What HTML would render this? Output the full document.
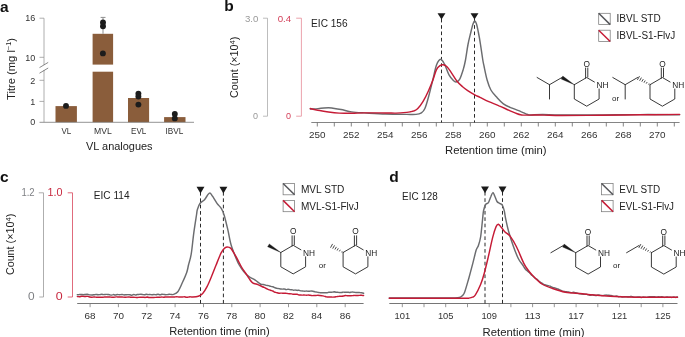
<!DOCTYPE html>
<html><head><meta charset="utf-8"><title>Figure</title>
<style>
html,body{margin:0;padding:0;background:#fff}
svg{display:block}
text{font-family:"Liberation Sans",sans-serif}
.t{font-size:9px;fill:#333}
.l{font-size:10px;fill:#222}
.p{font-size:15.5px;font-weight:bold;fill:#111}
.g{fill:#7d7f83}
.r{fill:#c8283f}
.c{fill:none;stroke-width:1.45;stroke-linejoin:round;stroke-linecap:round}
.b{fill:none;stroke:#222;stroke-width:0.9;stroke-linecap:round;stroke-linejoin:round}
.m{font-size:8.3px;fill:#222}
</style></head><body>
<svg width="685" height="337" viewBox="0 0 685 337">
<rect width="685" height="337" fill="#fff"/>

<text class="p" x="0" y="11.5">a</text>
<g fill="#8a5d3b">
<rect x="55.5" y="106.1" width="21.4" height="16.1"/>
<rect x="92.6" y="33.8" width="20.5" height="30.8"/>
<rect x="92.6" y="71.7" width="20.5" height="50.5"/>
<rect x="128" y="98" width="21.1" height="24.2"/>
<rect x="164.1" y="117.1" width="21.4" height="5.1"/>
</g>
<path d="M103,17.4V33.8M100.6,17.4H105.5" stroke="#8f8f8f" stroke-width="1" fill="none"/>
<path d="M39.5,18.2H44V64.8M44,70V122.2M39.5,57.3H44M39.5,80.3H44M39.5,101.4H44" stroke="#999" stroke-width="0.8" fill="none"/>
<path d="M39.5,122.3H194" stroke="#777" stroke-width="0.8" fill="none"/>
<path d="M39.5,67.6L48.2,62.4M39.5,73.2L48.2,68" stroke="#555" stroke-width="0.7" fill="none"/>
<circle cx="66" cy="105.9" r="2.95" fill="#1c1c1c"/>
<circle cx="103.0" cy="22.5" r="2.95" fill="#1c1c1c"/>
<circle cx="103.0" cy="26.2" r="2.95" fill="#1c1c1c"/>
<circle cx="102.9" cy="53.4" r="2.95" fill="#1c1c1c"/>
<circle cx="138.4" cy="93.6" r="2.95" fill="#1c1c1c"/>
<circle cx="138.4" cy="96.5" r="2.95" fill="#1c1c1c"/>
<circle cx="138.4" cy="104.6" r="2.95" fill="#1c1c1c"/>
<circle cx="174.8" cy="113.9" r="2.95" fill="#1c1c1c"/>
<circle cx="174.8" cy="118.4" r="2.95" fill="#1c1c1c"/>
<text class="t" x="35.3" y="21.4" text-anchor="end">16</text>
<text class="t" x="35.3" y="60.5" text-anchor="end">10</text>
<text class="t" x="35.3" y="83.5" text-anchor="end">2</text>
<text class="t" x="35.3" y="104.6" text-anchor="end">1</text>
<text class="t" x="35.3" y="125.4" text-anchor="end">0</text>
<text class="t" x="61.4" y="133.8" textLength="9.8" lengthAdjust="spacingAndGlyphs">VL</text>
<text class="t" x="94" y="133.8" textLength="17.8" lengthAdjust="spacingAndGlyphs">MVL</text>
<text class="t" x="131" y="133.8" textLength="15.3" lengthAdjust="spacingAndGlyphs">EVL</text>
<text class="t" x="165.5" y="133.8" textLength="17.8" lengthAdjust="spacingAndGlyphs">IBVL</text>
<text class="l" x="86" y="149.8" textLength="66.6" lengthAdjust="spacingAndGlyphs">VL analogues</text>
<text class="l" transform="translate(14.6,100) rotate(-90)" textLength="62" lengthAdjust="spacingAndGlyphs">Titre (mg l<tspan font-size="6.5" dy="-3.2">−1</tspan><tspan dy="3.2">)</tspan></text>
<text class="p" x="224.3" y="11.3">b</text>
<text class="t g" style="fill:#999" x="244.9" y="21.6" textLength="13.4" lengthAdjust="spacingAndGlyphs">3.0</text>
<text class="t g" style="fill:#999" x="253.1" y="119.4">0</text>
<text class="t r" style="fill:#d4405a" x="277.7" y="21.6" textLength="13.5" lengthAdjust="spacingAndGlyphs">0.4</text>
<text class="t r" style="fill:#d4405a" x="286" y="119.4">0</text>
<path d="M263,18.2H267.5V116.2H263" stroke="#a0a0a0" stroke-width="0.7" fill="none"/>
<path d="M296.2,18.2H301.4V116.2H296.2" stroke="#e68a97" stroke-width="0.8" fill="none"/>
<text class="l" x="311.1" y="26.7" textLength="36.5" lengthAdjust="spacingAndGlyphs">EIC 156</text>
<text class="l" transform="translate(237.9,98) rotate(-90)" textLength="61.4" lengthAdjust="spacingAndGlyphs">Count (×10<tspan font-size="7.2" dy="-3">4</tspan><tspan dy="3">)</tspan></text>
<path d="M311.3,122.5H679.6M317.3,122.5V126.5M334.3,122.5V126.5M351.3,122.5V126.5M368.3,122.5V126.5M385.3,122.5V126.5M402.3,122.5V126.5M419.3,122.5V126.5M436.3,122.5V126.5M453.3,122.5V126.5M470.3,122.5V126.5M487.3,122.5V126.5M504.3,122.5V126.5M521.3,122.5V126.5M538.3,122.5V126.5M555.3,122.5V126.5M572.3,122.5V126.5M589.3,122.5V126.5M606.3,122.5V126.5M623.3,122.5V126.5M640.3,122.5V126.5M657.3,122.5V126.5M674.3,122.5V126.5" stroke="#666" stroke-width="0.8" fill="none"/>
<text class="t" x="309.1" y="138.2" textLength="16.5" lengthAdjust="spacingAndGlyphs">250</text>
<text class="t" x="343.1" y="138.2" textLength="16.5" lengthAdjust="spacingAndGlyphs">252</text>
<text class="t" x="377.1" y="138.2" textLength="16.5" lengthAdjust="spacingAndGlyphs">254</text>
<text class="t" x="411.1" y="138.2" textLength="16.5" lengthAdjust="spacingAndGlyphs">256</text>
<text class="t" x="445.1" y="138.2" textLength="16.5" lengthAdjust="spacingAndGlyphs">258</text>
<text class="t" x="479.1" y="138.2" textLength="16.5" lengthAdjust="spacingAndGlyphs">260</text>
<text class="t" x="513.0" y="138.2" textLength="16.5" lengthAdjust="spacingAndGlyphs">262</text>
<text class="t" x="547.0" y="138.2" textLength="16.5" lengthAdjust="spacingAndGlyphs">264</text>
<text class="t" x="581.0" y="138.2" textLength="16.5" lengthAdjust="spacingAndGlyphs">266</text>
<text class="t" x="615.0" y="138.2" textLength="16.5" lengthAdjust="spacingAndGlyphs">268</text>
<text class="t" x="649.0" y="138.2" textLength="16.5" lengthAdjust="spacingAndGlyphs">270</text>
<text class="l" x="445" y="154.3" textLength="101.6" lengthAdjust="spacingAndGlyphs">Retention time (min)</text>
<path d="M441.5,18.8V122.5" stroke="#1f1f1f" stroke-width="0.95" stroke-dasharray="3.65 2.7" fill="none"/>
<path d="M437.55,13.2H445.45L441.5,19.4Z" fill="#1a1a1a"/>
<path d="M474.5,18.8V122.5" stroke="#1f1f1f" stroke-width="0.95" stroke-dasharray="3.65 2.7" fill="none"/>
<path d="M470.55,13.2H478.45L474.5,19.4Z" fill="#1a1a1a"/>
<path class="c" stroke="#6b6c6f" d="M310.3,109.0C311.6,108.9 315.7,108.8 318.0,108.6C320.3,108.4 322.2,108.2 324.0,108.0C325.8,107.8 327.0,107.7 328.5,107.7C330.0,107.7 330.9,107.9 333.0,108.2C335.1,108.5 337.9,108.9 341.0,109.5C344.1,110.1 347.8,111.3 351.6,111.9C355.4,112.5 358.4,112.6 364.0,112.9C369.6,113.2 378.4,113.8 385.5,114.0C392.6,114.2 401.7,114.3 406.8,114.4C411.9,114.5 413.6,114.7 416.0,114.4C418.4,114.2 419.9,113.9 421.4,112.9C422.9,111.9 423.7,111.2 424.9,108.5C426.1,105.8 427.2,101.8 428.5,97.0C429.8,92.2 431.6,84.8 432.9,79.5C434.2,74.2 435.2,68.5 436.5,65.1C437.8,61.7 439.3,59.4 440.6,59.3C441.9,59.1 443.1,61.6 444.5,64.2C445.9,66.8 447.5,72.2 449.0,74.9C450.5,77.6 452.2,79.4 453.4,80.6C454.6,81.8 455.1,82.2 456.1,82.0C457.1,81.8 458.4,81.5 459.6,79.4C460.8,77.3 462.2,72.8 463.2,69.6C464.2,66.4 464.7,64.2 465.5,60.0C466.3,55.8 467.1,49.2 468.0,44.5C468.9,39.8 470.1,35.4 470.9,32.0C471.7,28.6 472.4,25.8 473.0,24.0C473.6,22.2 474.2,21.0 474.8,21.0C475.4,21.0 475.9,22.2 476.5,24.0C477.1,25.8 477.6,28.6 478.3,32.0C479.0,35.4 479.8,39.8 480.5,44.5C481.2,49.2 482.2,56.2 482.8,60.0C483.4,63.8 483.5,63.6 484.2,67.0C484.9,70.4 486.1,76.5 487.2,80.3C488.3,84.1 489.4,87.3 490.9,90.0C492.4,92.7 494.0,94.3 496.1,96.6C498.2,98.9 500.7,102.0 503.4,103.9C506.1,105.8 509.2,106.9 512.1,108.2C515.0,109.5 518.6,110.6 520.9,111.6C523.2,112.5 524.8,113.4 526.0,113.9C527.2,114.4 527.5,114.6 528.3,114.8C529.0,115.0 528.1,115.0 530.5,115.0C532.9,115.0 537.9,114.5 542.8,114.5C547.7,114.5 550.5,114.9 560.0,115.0C569.5,115.1 586.7,115.1 600.0,115.0C613.3,114.9 626.7,114.6 640.0,114.6C653.3,114.5 673.0,114.7 679.6,114.7"/>
<path class="c" stroke="#c51b36" d="M310.3,108.5C311.6,108.8 314.8,109.7 317.8,110.3C320.8,110.9 324.9,111.5 328.5,112.0C332.1,112.5 335.3,112.9 339.2,113.1C343.1,113.3 347.5,113.3 351.6,113.3C355.7,113.3 358.4,113.0 364.0,112.9C369.6,112.8 380.2,112.9 385.5,112.9C390.8,112.9 392.4,113.2 396.0,113.1C399.6,113.0 404.4,112.6 406.8,112.4C409.2,112.2 409.5,112.0 410.7,111.7C411.9,111.5 412.8,111.4 414.0,110.9C415.2,110.4 416.3,110.1 417.8,108.5C419.3,106.9 421.3,104.4 423.1,101.4C424.9,98.4 426.9,94.3 428.5,90.7C430.1,87.1 431.6,83.5 432.9,80.0C434.2,76.5 435.3,72.0 436.5,69.6C437.7,67.2 438.9,66.5 440.0,65.7C441.1,64.9 442.1,64.6 443.3,64.8C444.5,65.0 445.8,65.5 447.2,66.9C448.6,68.3 450.0,70.7 451.6,73.1C453.2,75.5 455.2,79.0 457.0,81.2C458.8,83.4 460.5,84.9 462.3,86.5C464.1,88.1 465.6,89.2 467.7,90.6C469.8,92.0 472.8,93.8 474.8,94.9C476.9,96.0 477.7,96.2 480.0,97.3C482.3,98.4 485.6,100.3 488.8,101.7C492.0,103.1 495.6,104.3 499.0,105.8C502.4,107.2 506.2,109.1 509.2,110.4C512.2,111.7 515.3,113.1 517.2,113.8C519.1,114.5 519.5,114.6 520.5,114.8C521.5,115.0 521.5,115.0 523.0,115.1C524.5,115.1 526.1,115.1 529.6,115.1C533.1,115.1 538.8,115.0 544.2,115.1C549.6,115.2 552.5,115.5 561.8,115.5C571.1,115.5 587.0,115.4 600.0,115.3C613.0,115.2 626.7,114.9 640.0,114.8C653.3,114.7 673.0,114.5 679.6,114.4"/>
<rect x="598.7" y="13.3" width="11.5" height="11.3" fill="#fff" stroke="#7a7a7a" stroke-width="0.75"/>
<path d="M598.7,13.3L610.2,24.6" stroke="#55565a" stroke-width="1.5"/>
<rect x="598.7" y="30.2" width="11.5" height="11.3" fill="#fff" stroke="#7a7a7a" stroke-width="0.75"/>
<path d="M598.7,30.2L610.2,41.5" stroke="#c51b36" stroke-width="1.5"/>
<text class="l" x="616.5" y="22" textLength="44.2" lengthAdjust="spacingAndGlyphs">IBVL STD</text>
<text class="l" x="616.5" y="38.9" textLength="58.7" lengthAdjust="spacingAndGlyphs">IBVL-S1-FlvJ</text>
<path class="b" d="M574.3,84.7L586.7,77.5L594.4,82.0M599.1,89.0L599.1,99.0L586.7,106.2L574.3,99.0L574.3,84.7M585.6,78.1V68.0M587.8,77.0V68.0"/>
<text class="m" x="586.7" y="66.5" text-anchor="middle">O</text>
<text class="m" x="596.5" y="88.1">NH</text>
<path class="b" d="M561.9,77.5L549.5,84.7L537.1,77.5M549.5,84.7L549.5,99.0"/>
<path d="M574.3,84.7L562.8,76.1L561.1,79.0Z" fill="#1a1a1a" stroke="#1a1a1a" stroke-width="0.3"/>
<path class="b" d="M650.0,84.7L662.4,77.5L670.1,82.0M674.8,89.0L674.8,99.0L662.4,106.2L650.0,99.0L650.0,84.7M661.3,78.1V68.0M663.5,77.0V68.0"/>
<text class="m" x="662.4" y="66.5" text-anchor="middle">O</text>
<text class="m" x="672.2" y="88.1">NH</text>
<path class="b" d="M637.6,77.5L625.2,84.7L612.8,77.5M625.2,84.7L625.2,99.0"/>
<path d="M649.1,83.5L648.5,84.5M647.2,82.0L646.2,83.6M645.2,80.5L644.0,82.7M643.3,79.1L641.8,81.7M641.4,77.6L639.6,80.8M639.5,76.1L637.4,79.9" stroke="#1a1a1a" stroke-width="0.8" fill="none"/>
<text class="m" x="612" y="101.3" style="font-size:8px">or</text>
<text class="p" x="0" y="181.7">c</text>
<text class="t g" x="21.4" y="196.1" style="font-size:10.2px" textLength="13.2" lengthAdjust="spacingAndGlyphs">1.2</text>
<text class="t g" x="27.9" y="300.3" style="font-size:10.2px" textLength="6.6" lengthAdjust="spacingAndGlyphs">0</text>
<text class="t r" x="47.6" y="196.1" style="font-size:10.2px" textLength="15" lengthAdjust="spacingAndGlyphs">1.0</text>
<text class="t r" x="55.7" y="300.3" style="font-size:10.2px" textLength="6.9" lengthAdjust="spacingAndGlyphs">0</text>
<path d="M38.8,192.8H43.5V297H39.3" stroke="#999" stroke-width="0.8" fill="none"/>
<path d="M67.7,192.8H72.5V297H67.7" stroke="#d8455a" stroke-width="0.8" fill="none"/>
<text class="l" x="93.8" y="199.4" textLength="35.7" lengthAdjust="spacingAndGlyphs">EIC 114</text>
<text class="l" transform="translate(14.2,275.1) rotate(-90)" textLength="61.4" lengthAdjust="spacingAndGlyphs">Count (×10<tspan font-size="7.2" dy="-3">4</tspan><tspan dy="3">)</tspan></text>
<path d="M77.2,303.5H363.6" stroke="#666" stroke-width="0.9" fill="none"/>
<path d="M90.1,303.5V307.2M118.4,303.5V307.2M146.8,303.5V307.2M175.1,303.5V307.2M203.5,303.5V307.2M231.8,303.5V307.2M260.1,303.5V307.2M288.5,303.5V307.2M316.8,303.5V307.2M345.2,303.5V307.2" stroke="#7c7c7c" stroke-width="0.8" fill="none"/>
<text class="t" x="84.6" y="318.8" textLength="11" lengthAdjust="spacingAndGlyphs">68</text>
<text class="t" x="112.9" y="318.8" textLength="11" lengthAdjust="spacingAndGlyphs">70</text>
<text class="t" x="141.3" y="318.8" textLength="11" lengthAdjust="spacingAndGlyphs">72</text>
<text class="t" x="169.6" y="318.8" textLength="11" lengthAdjust="spacingAndGlyphs">74</text>
<text class="t" x="198.0" y="318.8" textLength="11" lengthAdjust="spacingAndGlyphs">76</text>
<text class="t" x="226.3" y="318.8" textLength="11" lengthAdjust="spacingAndGlyphs">78</text>
<text class="t" x="254.6" y="318.8" textLength="11" lengthAdjust="spacingAndGlyphs">80</text>
<text class="t" x="283.0" y="318.8" textLength="11" lengthAdjust="spacingAndGlyphs">82</text>
<text class="t" x="311.3" y="318.8" textLength="11" lengthAdjust="spacingAndGlyphs">84</text>
<text class="t" x="339.7" y="318.8" textLength="11" lengthAdjust="spacingAndGlyphs">86</text>
<text class="l" x="169.3" y="335.4" textLength="100.3" lengthAdjust="spacingAndGlyphs">Retention time (min)</text>
<path d="M200.5,192.0V303.5" stroke="#1f1f1f" stroke-width="0.95" stroke-dasharray="3.65 2.7" fill="none"/>
<path d="M196.55,186.8H204.45L200.5,193.5Z" fill="#1a1a1a"/>
<path d="M223.4,192.0V303.5" stroke="#1f1f1f" stroke-width="0.95" stroke-dasharray="3.65 2.7" fill="none"/>
<path d="M219.45,186.8H227.35L223.4,193.5Z" fill="#1a1a1a"/>
<path class="c" stroke="#6b6c6f" d="M77.3,294.8C77.6,294.8 78.6,294.7 79.2,294.6C79.9,294.5 80.5,294.4 81.2,294.4C81.8,294.4 82.4,294.7 83.1,294.7C83.7,294.7 84.3,294.6 85.0,294.5C85.7,294.4 86.6,294.3 87.3,294.3C88.1,294.4 88.9,294.7 89.7,294.9C90.4,295.0 91.3,295.0 92.0,295.0C92.7,295.0 93.3,294.9 94.0,294.8C94.7,294.7 95.3,294.5 96.0,294.4C96.7,294.4 97.3,294.7 98.0,294.7C98.7,294.7 99.4,294.7 100.0,294.6C100.6,294.5 101.2,294.3 101.9,294.3C102.5,294.3 103.1,294.6 103.8,294.6C104.4,294.6 105.0,294.4 105.6,294.4C106.2,294.3 106.9,294.4 107.5,294.4C108.1,294.5 108.8,294.6 109.4,294.7C110.0,294.8 110.6,295.1 111.2,295.1C111.9,295.1 112.5,294.6 113.1,294.6C113.8,294.5 114.3,294.9 115.0,294.9C115.7,294.9 116.6,294.6 117.3,294.5C118.1,294.5 118.9,294.7 119.7,294.7C120.4,294.6 121.3,294.4 122.0,294.4C122.7,294.4 123.3,294.8 124.0,294.9C124.7,294.9 125.3,294.7 126.0,294.7C126.7,294.6 127.3,294.6 128.0,294.6C128.7,294.6 129.4,294.7 130.0,294.8C130.6,294.9 131.2,295.2 131.8,295.2C132.4,295.1 133.0,294.4 133.6,294.4C134.2,294.4 134.8,295.0 135.5,295.0C136.1,295.0 136.7,294.6 137.3,294.5C137.9,294.4 138.5,294.4 139.1,294.4C139.7,294.3 140.3,294.3 140.9,294.3C141.5,294.3 142.1,294.4 142.7,294.5C143.3,294.5 143.9,294.9 144.5,294.8C145.2,294.8 145.8,294.3 146.4,294.3C147.0,294.3 147.6,294.6 148.2,294.6C148.8,294.6 149.4,294.5 150.0,294.5C150.6,294.5 151.3,294.7 152.0,294.7C152.7,294.6 153.3,294.5 154.0,294.5C154.7,294.5 155.3,294.7 156.0,294.7C156.7,294.6 157.3,294.3 158.0,294.3C158.7,294.3 159.3,294.7 160.0,294.7C160.7,294.7 161.3,294.4 161.9,294.3C162.6,294.3 163.2,294.3 163.8,294.4C164.5,294.4 165.1,294.7 165.7,294.7C166.4,294.7 167.0,294.5 167.7,294.5C168.3,294.4 168.9,294.3 169.6,294.3C170.2,294.3 170.8,294.5 171.5,294.5C172.1,294.5 172.3,294.9 173.4,294.4C174.5,293.9 176.3,293.6 177.8,291.7C179.3,289.8 180.8,286.0 182.3,282.8C183.8,279.6 185.7,275.5 186.7,272.5C187.7,269.5 187.8,268.1 188.5,265.0C189.2,261.9 190.3,259.6 191.2,254.2C192.1,248.8 192.9,239.3 193.8,232.8C194.7,226.3 195.9,218.9 196.5,215.0C197.1,211.1 196.8,211.4 197.4,209.5C198.0,207.6 198.9,204.9 200.1,203.3C201.3,201.7 203.2,201.2 204.5,199.7C205.8,198.2 207.2,195.5 208.1,194.4C209.0,193.3 209.5,192.8 210.2,193.1C210.9,193.4 211.4,194.5 212.5,196.2C213.6,197.9 215.5,201.2 217.0,203.3C218.5,205.4 220.2,206.7 221.4,208.6C222.6,210.5 223.1,211.6 224.1,215.0C225.1,218.4 226.5,224.1 227.7,229.2C228.9,234.2 229.7,240.2 231.2,245.3C232.7,250.4 235.3,256.2 236.6,259.5C237.9,262.8 238.0,263.0 239.2,265.0C240.4,267.0 242.1,269.7 243.7,271.6C245.3,273.5 247.1,275.2 249.0,276.6C250.9,278.0 253.3,278.9 255.2,280.1C257.1,281.3 259.1,283.3 260.3,284.0C261.5,284.7 261.7,284.3 262.4,284.4C263.1,284.5 263.8,284.5 264.5,284.7C265.1,284.8 265.8,285.2 266.5,285.4C267.2,285.6 267.9,285.4 268.6,285.6C269.3,285.8 270.0,286.2 270.7,286.4C271.4,286.6 272.1,286.6 272.9,286.8C273.6,287.0 274.3,287.5 275.0,287.8C275.7,288.0 276.4,288.3 277.1,288.4C277.8,288.5 278.3,288.5 278.9,288.6C279.5,288.7 280.1,288.9 280.8,289.0C281.4,289.1 282.0,289.1 282.6,289.1C283.2,289.1 283.8,288.9 284.4,288.9C285.0,289.0 285.6,289.6 286.2,289.6C286.9,289.6 287.5,289.2 288.1,289.2C288.7,289.2 289.3,289.5 289.9,289.6C290.5,289.7 291.1,289.6 291.7,289.7C292.3,289.8 292.9,290.1 293.6,290.2C294.2,290.2 294.8,289.9 295.4,290.0C296.0,290.0 296.6,290.3 297.2,290.4C297.8,290.4 298.4,290.2 299.0,290.3C299.7,290.4 300.3,290.8 300.9,290.9C301.5,291.0 302.0,291.0 302.7,291.0C303.4,291.0 304.1,291.2 304.8,291.2C305.5,291.2 306.2,291.0 306.9,291.1C307.7,291.1 308.4,291.3 309.1,291.3C309.8,291.3 310.5,291.0 311.2,291.0C311.9,291.0 312.5,291.1 313.1,291.2C313.8,291.4 314.4,291.7 315.1,291.9C315.7,292.0 316.4,292.0 317.0,292.1C317.7,292.3 318.3,292.4 319.0,292.5C319.6,292.6 320.3,292.8 320.9,292.8C321.5,292.8 322.2,292.7 322.8,292.7C323.5,292.7 324.1,292.8 324.8,292.8C325.5,292.8 326.1,292.8 326.8,292.8C327.4,292.7 328.0,292.4 328.7,292.3C329.4,292.2 330.0,292.4 330.7,292.3C331.3,292.3 332.0,292.2 332.6,292.1C333.2,292.0 333.8,291.8 334.4,291.8C335.0,291.9 335.6,292.2 336.3,292.3C336.9,292.4 337.5,292.2 338.1,292.3C338.7,292.3 339.3,292.5 339.9,292.6C340.5,292.6 341.1,292.5 341.7,292.5C342.4,292.4 343.0,292.1 343.6,292.1C344.2,292.1 344.7,292.3 345.4,292.3C346.1,292.3 346.8,292.2 347.5,292.2C348.3,292.2 349.0,292.5 349.7,292.4C350.4,292.4 351.1,292.0 351.9,292.0C352.6,291.9 353.3,292.2 354.0,292.3C354.7,292.4 355.3,292.4 355.9,292.5C356.6,292.5 357.2,292.4 357.8,292.4C358.5,292.4 359.1,292.5 359.8,292.6C360.4,292.6 361.0,292.6 361.7,292.7C362.3,292.8 363.3,293.1 363.6,293.2"/>
<path class="c" stroke="#c51b36" d="M77.3,296.6C77.7,296.6 78.7,296.7 79.4,296.7C80.2,296.6 80.9,296.4 81.6,296.3C82.3,296.3 83.0,296.3 83.7,296.4C84.4,296.4 85.1,296.4 85.9,296.4C86.6,296.4 87.3,296.3 88.0,296.4C88.7,296.5 89.3,296.9 90.0,297.0C90.7,297.1 91.4,297.2 92.0,297.2C92.6,297.2 93.2,297.0 93.8,297.0C94.4,297.0 95.0,297.1 95.6,297.1C96.2,297.2 96.8,297.1 97.4,297.2C98.0,297.2 98.6,297.3 99.2,297.3C99.8,297.3 100.4,297.3 101.0,297.3C101.6,297.3 102.2,297.3 102.8,297.3C103.4,297.2 104.0,297.0 104.6,296.9C105.2,296.9 105.8,297.0 106.4,297.0C107.0,297.0 107.6,296.9 108.2,296.9C108.8,296.9 109.4,297.0 110.0,297.0C110.6,297.0 111.2,297.2 111.9,297.2C112.5,297.3 113.1,297.3 113.8,297.3C114.4,297.2 115.0,296.9 115.6,296.9C116.2,296.8 116.9,296.9 117.5,296.9C118.1,296.9 118.8,296.9 119.4,297.0C120.0,297.0 120.6,297.0 121.2,297.0C121.9,297.0 122.5,297.1 123.1,297.1C123.8,297.2 124.4,297.2 125.0,297.2C125.6,297.2 126.2,297.1 126.9,297.1C127.5,297.0 128.1,296.9 128.8,296.9C129.4,297.0 130.0,297.1 130.6,297.2C131.2,297.2 131.9,297.1 132.5,297.2C133.1,297.2 133.8,297.2 134.4,297.3C135.0,297.3 135.6,297.5 136.2,297.5C136.9,297.5 137.5,297.4 138.1,297.4C138.8,297.3 139.4,297.3 140.0,297.3C140.6,297.3 141.2,297.3 141.8,297.3C142.4,297.3 143.0,297.3 143.6,297.3C144.2,297.4 144.8,297.4 145.5,297.4C146.1,297.3 146.7,297.0 147.3,297.0C147.9,297.1 148.5,297.4 149.1,297.5C149.7,297.5 150.3,297.4 150.9,297.4C151.5,297.4 152.1,297.4 152.7,297.4C153.3,297.4 153.9,297.4 154.5,297.4C155.2,297.3 155.8,297.2 156.4,297.2C157.0,297.1 157.6,297.2 158.2,297.2C158.8,297.2 159.4,297.2 160.0,297.2C160.6,297.2 161.3,297.0 161.9,297.0C162.5,297.0 163.1,297.3 163.8,297.2C164.4,297.2 165.0,297.0 165.6,296.9C166.3,296.9 166.9,296.9 167.5,296.9C168.2,296.9 168.8,297.0 169.4,297.0C170.0,297.0 170.7,297.0 171.3,297.0C171.9,297.0 172.5,297.1 173.2,297.0C173.8,297.0 174.4,296.9 175.1,296.9C175.7,296.8 176.3,296.8 176.9,296.8C177.6,296.8 178.2,296.9 178.8,296.9C179.5,296.9 180.1,296.9 180.7,296.9C181.3,296.9 182.0,297.0 182.6,297.0C183.2,297.0 183.8,296.8 184.5,296.8C185.1,296.8 185.7,297.2 186.4,297.2C187.0,297.3 187.6,297.1 188.2,297.1C188.9,297.0 189.5,296.8 190.1,296.8C190.7,296.8 190.6,297.1 192.0,297.0C193.4,296.9 196.5,296.8 198.3,296.2C200.1,295.6 201.2,295.1 202.7,293.5C204.2,291.9 205.7,289.3 207.2,286.4C208.7,283.5 210.1,279.9 211.6,276.3C213.1,272.7 214.5,269.0 216.1,265.0C217.7,261.0 219.9,255.2 221.4,252.4C222.9,249.6 223.9,248.8 225.0,247.9C226.1,247.0 227.0,246.9 228.0,247.1C229.0,247.2 229.8,247.0 231.2,248.8C232.6,250.6 234.9,254.7 236.6,257.7C238.3,260.7 240.0,264.4 241.5,267.0C243.0,269.6 244.2,271.1 245.5,273.0C246.8,274.9 247.8,276.8 249.0,278.4C250.2,280.0 251.1,281.8 252.6,282.8C254.1,283.8 256.3,284.0 257.9,284.6C259.5,285.2 261.0,286.0 262.0,286.5C263.0,287.0 263.4,287.1 264.2,287.4C264.9,287.7 265.6,288.1 266.3,288.5C267.1,288.9 267.8,289.3 268.5,289.6C269.2,289.9 269.9,290.1 270.6,290.3C271.4,290.6 272.1,290.7 272.8,291.0C273.5,291.3 274.2,291.9 275.0,292.2C275.7,292.5 276.4,292.6 277.1,292.8C277.8,293.0 278.3,293.1 278.9,293.2C279.5,293.2 280.1,293.1 280.8,293.1C281.4,293.1 282.0,293.2 282.6,293.2C283.2,293.2 283.8,293.1 284.4,293.2C285.0,293.2 285.6,293.2 286.2,293.3C286.9,293.4 287.5,293.5 288.1,293.6C288.7,293.7 289.3,293.8 289.9,293.8C290.5,293.8 291.1,293.8 291.7,293.9C292.3,294.0 292.9,294.3 293.6,294.3C294.2,294.4 294.8,294.2 295.4,294.2C296.0,294.2 296.6,294.2 297.2,294.3C297.8,294.4 298.4,294.9 299.0,295.0C299.7,295.1 300.3,294.9 300.9,294.9C301.5,295.0 302.1,295.1 302.7,295.1C303.3,295.1 304.0,294.9 304.6,295.0C305.2,295.0 305.9,295.2 306.5,295.2C307.1,295.2 307.8,295.0 308.4,295.0C309.0,295.0 309.7,295.2 310.3,295.3C310.9,295.4 311.6,295.5 312.2,295.6C312.8,295.6 313.5,295.6 314.1,295.5C314.7,295.5 315.4,295.5 316.0,295.5C316.6,295.5 317.3,295.3 317.9,295.3C318.5,295.3 319.1,295.4 319.8,295.5C320.5,295.6 321.2,295.7 321.9,295.8C322.6,295.9 323.3,295.9 324.1,296.1C324.8,296.2 325.5,296.6 326.2,296.8C326.9,296.9 327.6,297.0 328.3,297.0C329.0,297.0 329.7,297.0 330.4,297.0C331.1,297.0 331.9,297.1 332.6,297.1C333.3,297.1 334.0,297.1 334.7,297.0C335.4,296.9 336.1,296.7 336.8,296.6C337.6,296.5 338.3,296.3 339.0,296.3C339.7,296.2 340.4,296.3 341.1,296.3C341.8,296.2 342.5,296.2 343.3,296.0C344.0,295.9 344.7,295.6 345.4,295.5C346.1,295.4 346.6,295.7 347.2,295.7C347.8,295.7 348.4,295.7 349.0,295.7C349.6,295.7 350.3,295.7 350.9,295.7C351.5,295.7 352.1,295.7 352.7,295.6C353.3,295.6 353.9,295.4 354.5,295.4C355.1,295.3 355.7,295.5 356.3,295.5C356.9,295.5 357.5,295.5 358.1,295.4C358.7,295.4 359.4,295.3 360.0,295.3C360.6,295.2 361.2,295.2 361.8,295.3C362.4,295.3 363.3,295.5 363.6,295.5"/>
<rect x="283.1" y="183.5" width="11.5" height="11.3" fill="#fff" stroke="#7a7a7a" stroke-width="0.75"/>
<path d="M283.1,183.5L294.6,194.8" stroke="#55565a" stroke-width="1.5"/>
<rect x="283.1" y="200.4" width="11.5" height="11.3" fill="#fff" stroke="#7a7a7a" stroke-width="0.75"/>
<path d="M283.1,200.4L294.6,211.70000000000002" stroke="#c51b36" stroke-width="1.5"/>
<text class="l" x="300.9" y="192.6" textLength="43.5" lengthAdjust="spacingAndGlyphs">MVL STD</text>
<text class="l" x="300.9" y="209.5" textLength="57.9" lengthAdjust="spacingAndGlyphs">MVL-S1-FlvJ</text>
<path class="b" d="M280.8,252.5L293.2,245.3L300.9,249.8M305.6,256.8L305.6,266.8L293.2,273.9L280.8,266.8L280.8,252.5M292.1,245.9V235.8M294.3,244.8V235.8"/>
<text class="m" x="293.2" y="234.3" text-anchor="middle">O</text>
<text class="m" x="303.0" y="255.9">NH</text>
<path d="M280.8,252.5L269.3,243.9L267.6,246.8Z" fill="#1a1a1a" stroke="#1a1a1a" stroke-width="0.3"/>
<path class="b" d="M343.1,252.5L355.5,245.3L363.2,249.8M367.9,256.8L367.9,266.8L355.5,273.9L343.1,266.8L343.1,252.5M354.4,245.9V235.8M356.6,244.8V235.8"/>
<text class="m" x="355.5" y="234.3" text-anchor="middle">O</text>
<text class="m" x="365.3" y="255.9">NH</text>
<path d="M342.2,251.3L341.6,252.3M340.3,249.8L339.3,251.4M338.3,248.3L337.1,250.5M336.4,246.9L334.9,249.5M334.5,245.4L332.7,248.6M332.6,243.9L330.5,247.7" stroke="#1a1a1a" stroke-width="0.8" fill="none"/>
<text class="m" x="318.7" y="268.1" style="font-size:8px">or</text>
<text class="p" x="389.2" y="181.5">d</text>
<text class="l" x="402.1" y="199.5" textLength="35.7" lengthAdjust="spacingAndGlyphs">EIC 128</text>
<path d="M389.3,303.5H677.5" stroke="#666" stroke-width="0.9" fill="none"/>
<path d="M402.3,303.5V307.2M424.0,303.5V307.2M445.7,303.5V307.2M467.5,303.5V307.2M489.2,303.5V307.2M510.9,303.5V307.2M532.6,303.5V307.2M554.3,303.5V307.2M576.1,303.5V307.2M597.8,303.5V307.2M619.5,303.5V307.2M641.2,303.5V307.2M662.9,303.5V307.2" stroke="#7c7c7c" stroke-width="0.8" fill="none"/>
<text class="t" x="394.5" y="318.8" textLength="15.6" lengthAdjust="spacingAndGlyphs">101</text>
<text class="t" x="437.9" y="318.8" textLength="15.6" lengthAdjust="spacingAndGlyphs">105</text>
<text class="t" x="481.4" y="318.8" textLength="15.6" lengthAdjust="spacingAndGlyphs">109</text>
<text class="t" x="524.8" y="318.8" textLength="15.6" lengthAdjust="spacingAndGlyphs">113</text>
<text class="t" x="568.3" y="318.8" textLength="15.6" lengthAdjust="spacingAndGlyphs">117</text>
<text class="t" x="611.7" y="318.8" textLength="15.6" lengthAdjust="spacingAndGlyphs">121</text>
<text class="t" x="655.1" y="318.8" textLength="15.6" lengthAdjust="spacingAndGlyphs">125</text>
<text class="l" x="482.5" y="335.5" textLength="102" lengthAdjust="spacingAndGlyphs">Retention time (min)</text>
<path d="M485.0,191.9V303.5" stroke="#1f1f1f" stroke-width="0.95" stroke-dasharray="3.65 2.7" fill="none"/>
<path d="M481.05,186.6H488.95L485.0,193.3Z" fill="#1a1a1a"/>
<path d="M502.5,191.9V303.5" stroke="#1f1f1f" stroke-width="0.95" stroke-dasharray="3.65 2.7" fill="none"/>
<path d="M498.55,186.6H506.45L502.5,193.3Z" fill="#1a1a1a"/>
<path class="c" stroke="#6b6c6f" d="M389.3,298.0C394.4,298.0 411.6,298.0 420.0,298.0C428.4,298.0 434.2,298.0 440.0,298.0C445.8,298.0 451.8,298.1 455.0,298.0C458.2,297.9 458.3,297.9 459.5,297.5C460.7,297.1 461.4,296.7 462.3,295.8C463.2,294.9 463.6,295.0 464.7,292.0C465.8,289.0 467.5,282.8 468.9,278.0C470.2,273.2 471.6,268.0 472.8,263.4C474.0,258.8 475.2,253.3 476.1,250.3C477.1,247.3 477.8,247.4 478.5,245.2C479.2,243.0 479.9,241.2 480.6,237.0C481.3,232.8 482.0,224.4 482.5,220.0C483.0,215.6 483.0,213.1 483.6,210.5C484.2,207.9 485.1,205.5 485.9,204.2C486.7,202.9 487.6,203.9 488.4,202.7C489.2,201.5 489.9,198.7 490.7,197.0C491.4,195.3 492.2,192.7 492.9,192.6C493.6,192.5 494.1,194.7 494.8,196.2C495.5,197.7 496.2,200.3 497.0,201.5C497.8,202.7 498.7,202.7 499.6,203.3C500.5,203.9 501.5,203.8 502.3,205.1C503.1,206.4 503.9,209.2 504.4,211.3C504.9,213.5 504.8,214.7 505.5,218.0C506.2,221.3 507.2,226.4 508.5,231.0C509.8,235.6 511.4,240.7 513.0,245.3C514.6,249.9 516.7,255.2 518.3,258.5C519.9,261.8 521.5,263.2 522.7,265.0C523.9,266.8 524.7,268.3 525.5,269.3C526.3,270.3 526.8,270.3 527.4,270.9C528.0,271.4 528.7,272.0 529.3,272.6C529.9,273.2 530.5,274.0 531.2,274.6C531.9,275.2 532.6,275.9 533.3,276.5C534.1,277.1 534.8,277.9 535.5,278.5C536.2,279.0 536.9,279.1 537.6,279.7C538.3,280.3 539.0,281.3 539.8,281.9C540.5,282.5 541.2,282.8 541.9,283.2C542.6,283.6 543.3,284.1 544.0,284.5C544.8,284.8 545.5,285.1 546.2,285.3C546.9,285.5 547.6,285.4 548.3,285.6C549.0,285.8 549.7,286.0 550.5,286.3C551.2,286.6 551.9,287.2 552.6,287.4C553.3,287.6 553.8,287.6 554.4,287.8C555.0,287.9 555.6,288.2 556.3,288.4C556.9,288.6 557.5,288.7 558.1,289.0C558.7,289.2 559.3,289.7 559.9,290.0C560.5,290.3 561.1,290.6 561.7,290.8C562.4,291.1 563.0,291.2 563.6,291.4C564.2,291.5 564.8,291.6 565.4,291.7C566.0,291.8 566.8,291.8 567.5,291.9C568.1,292.0 568.8,292.2 569.5,292.3C570.2,292.4 570.9,292.6 571.6,292.6C572.3,292.6 573.0,292.2 573.6,292.2C574.3,292.2 575.1,292.6 575.7,292.8C576.3,293.0 576.9,293.1 577.5,293.2C578.1,293.4 578.7,293.7 579.4,293.8C580.0,293.9 580.6,293.9 581.2,294.0C581.8,294.0 582.4,294.2 583.0,294.2C583.6,294.3 584.2,294.3 584.8,294.3C585.5,294.3 586.1,294.2 586.7,294.3C587.3,294.4 587.9,294.8 588.5,294.9C589.1,295.0 589.8,295.2 590.4,295.2C591.1,295.2 591.7,294.8 592.3,294.8C593.0,294.8 593.6,295.2 594.3,295.3C594.9,295.4 595.5,295.5 596.2,295.5C596.8,295.4 597.5,295.1 598.1,295.0C598.7,294.9 599.4,295.0 600.0,295.1C600.7,295.1 601.3,295.5 601.9,295.6C602.6,295.6 603.2,295.5 603.9,295.4C604.5,295.3 605.1,295.0 605.8,295.0C606.4,294.9 607.1,295.3 607.7,295.3C608.3,295.3 608.9,295.1 609.5,295.2C610.1,295.2 610.7,295.2 611.4,295.4C612.0,295.5 612.6,296.1 613.2,296.2C613.8,296.4 614.4,296.4 615.0,296.3C615.6,296.3 616.2,295.8 616.8,295.9C617.5,296.0 618.1,296.6 618.7,296.7C619.3,296.8 619.9,296.5 620.5,296.6C621.1,296.7 621.8,297.0 622.4,297.1C623.1,297.1 623.7,296.9 624.3,296.8C625.0,296.7 625.6,296.6 626.3,296.6C626.9,296.6 627.5,296.8 628.2,296.8C628.8,296.8 629.5,296.5 630.1,296.5C630.7,296.4 631.4,296.3 632.0,296.4C632.7,296.5 633.3,297.2 633.9,297.3C634.6,297.4 635.2,297.1 635.9,297.1C636.5,297.0 637.1,297.0 637.8,297.0C638.4,297.0 639.1,296.9 639.7,297.0C640.3,297.1 641.0,297.4 641.6,297.4C642.2,297.4 642.9,296.9 643.5,296.9C644.1,296.9 644.7,297.3 645.4,297.3C646.0,297.4 646.6,297.4 647.3,297.3C647.9,297.2 648.5,296.8 649.2,296.7C649.8,296.7 650.4,296.8 651.0,296.8C651.7,296.8 652.3,296.8 652.9,296.8C653.6,296.8 654.2,296.7 654.8,296.8C655.5,296.8 656.1,297.1 656.7,297.1C657.3,297.1 658.0,296.8 658.6,296.8C659.2,296.8 659.9,296.9 660.5,296.9C661.1,296.9 661.8,296.6 662.4,296.7C663.0,296.7 663.6,297.3 664.3,297.4C664.9,297.4 665.5,296.9 666.2,296.9C666.8,296.8 667.4,296.9 668.0,297.0C668.7,297.0 669.3,297.0 669.9,297.1C670.6,297.1 671.2,297.4 671.8,297.4C672.5,297.3 673.1,296.9 673.7,296.9C674.4,296.9 675.0,297.4 675.6,297.4C676.2,297.4 677.2,297.1 677.5,297.0"/>
<path class="c" stroke="#c51b36" d="M389.3,298.2C397.8,298.2 427.4,298.2 440.0,298.2C452.6,298.2 460.2,298.2 465.0,298.2C469.8,298.2 467.8,298.3 469.0,298.1C470.2,297.9 471.4,297.7 472.5,297.2C473.6,296.7 474.0,297.1 475.4,294.9C476.8,292.7 479.2,287.8 480.7,284.2C482.2,280.6 483.0,277.9 484.2,273.5C485.4,269.1 486.7,263.6 488.1,257.7C489.5,251.8 491.2,243.3 492.5,238.1C493.8,232.9 495.1,228.9 496.1,226.6C497.1,224.3 497.5,224.2 498.4,224.3C499.3,224.5 500.3,226.2 501.4,227.5C502.5,228.8 503.5,230.4 505.0,231.9C506.5,233.4 508.4,233.9 510.3,236.4C512.2,238.9 514.4,242.6 516.6,247.0C518.8,251.4 521.8,259.3 523.7,263.1C525.6,266.9 526.5,267.9 528.0,270.0C529.5,272.1 530.3,273.2 532.6,275.5C534.9,277.8 538.6,281.8 541.9,284.0C545.2,286.2 548.7,287.1 552.6,288.5C556.5,289.9 560.4,291.3 565.4,292.2C570.4,293.1 576.8,293.2 582.5,293.8C588.2,294.4 593.3,295.0 599.6,295.5C605.9,296.0 613.8,296.5 620.5,296.8C627.2,297.1 630.2,297.1 639.7,297.2C649.2,297.3 671.2,297.2 677.5,297.2"/>
<rect x="601.6" y="183.5" width="11.5" height="11.3" fill="#fff" stroke="#7a7a7a" stroke-width="0.75"/>
<path d="M601.6,183.5L613.1,194.8" stroke="#55565a" stroke-width="1.5"/>
<rect x="601.6" y="200.4" width="11.5" height="11.3" fill="#fff" stroke="#7a7a7a" stroke-width="0.75"/>
<path d="M601.6,200.4L613.1,211.70000000000002" stroke="#c51b36" stroke-width="1.5"/>
<text class="l" x="619.3" y="192.6" textLength="40.9" lengthAdjust="spacingAndGlyphs">EVL STD</text>
<text class="l" x="619.3" y="209.5" textLength="54.7" lengthAdjust="spacingAndGlyphs">EVL-S1-FlvJ</text>
<path class="b" d="M575.7,252.7L588.1,245.5L595.8,250.0M600.5,257.0L600.5,267.0L588.1,274.1L575.7,267.0L575.7,252.7M587.0,246.1V235.9M589.2,244.9V235.9"/>
<text class="m" x="588.1" y="234.5" text-anchor="middle">O</text>
<text class="m" x="597.9" y="256.1">NH</text>
<path class="b" d="M563.3,245.5L550.9,252.7"/>
<path d="M575.7,252.7L564.2,244.1L562.5,247.0Z" fill="#1a1a1a" stroke="#1a1a1a" stroke-width="0.3"/>
<path class="b" d="M651.4,252.7L663.8,245.5L671.5,250.0M676.2,257.0L676.2,267.0L663.8,274.1L651.4,267.0L651.4,252.7M662.7,246.1V235.9M664.9,244.9V235.9"/>
<text class="m" x="663.8" y="234.5" text-anchor="middle">O</text>
<text class="m" x="673.6" y="256.1">NH</text>
<path class="b" d="M639.0,245.5L626.6,252.7"/>
<path d="M650.5,251.5L649.9,252.5M648.6,250.0L647.6,251.6M646.6,248.5L645.4,250.7M644.7,247.1L643.2,249.7M642.8,245.6L641.0,248.8M640.9,244.1L638.8,247.9" stroke="#1a1a1a" stroke-width="0.8" fill="none"/>
<text class="m" x="613.1" y="268.2" style="font-size:8px">or</text>
</svg></body></html>
